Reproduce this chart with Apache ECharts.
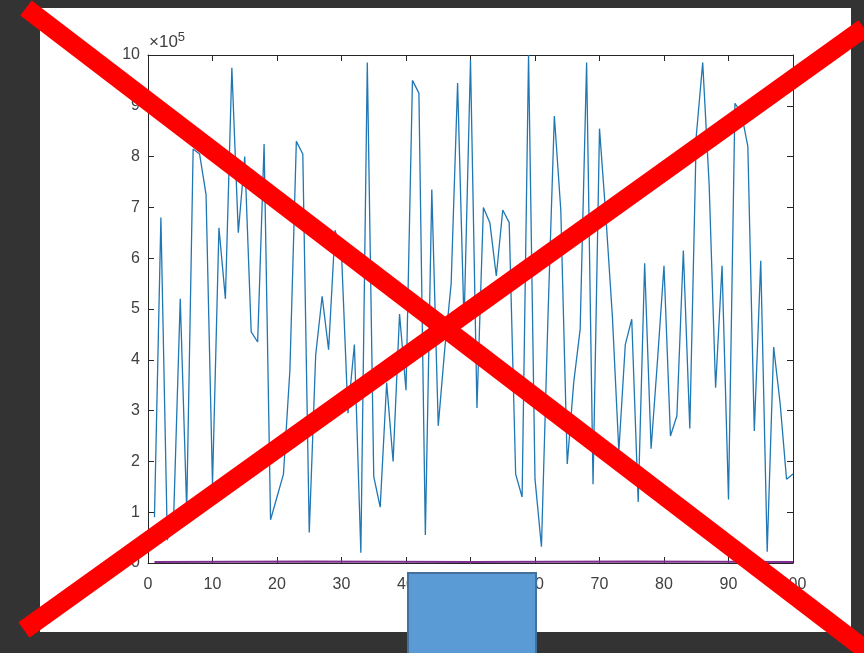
<!DOCTYPE html>
<html>
<head>
<meta charset="UTF-8">
<title>plot</title>
<script src="https://cdn.jsdelivr.net/npm/echarts/dist/echarts.min.js"></script>
<style>
  *{margin:0;padding:0;}
  body{background:#333333;}
  #main{width:864px;height:653px;}
</style>
</head>
<body>
<div id="main"></div>
<script>
// values, in units of 10^5
var blueY = [0.9, 6.8, 0.45, 1.0, 5.2, 1.05, 8.15, 8.05, 7.25, 1.55,
             6.6, 5.2, 9.75, 6.5, 8.0, 4.55, 4.35, 8.25, 0.85, 1.3,
             1.75, 3.8, 8.3, 8.05, 0.6, 4.1, 5.25, 4.2, 6.55, 6.1,
             2.95, 4.3, 0.2, 9.85, 1.7, 1.1, 3.55, 2.0, 4.9, 3.4,
             9.5, 9.25, 0.55, 7.35, 2.7, 4.2, 5.5, 9.45, 4.7, 9.9,
             3.05, 7.0, 6.7, 5.65, 6.95, 6.7, 1.75, 1.3, 10.0, 1.65,
             0.32, 4.8, 8.8, 6.95, 1.95, 3.55, 4.6, 9.85, 1.55, 8.55,
             6.8, 4.85, 2.2, 4.3, 4.8, 1.2, 5.9, 2.25, 4.0, 5.85,
             2.5, 2.9, 6.15, 2.65, 8.4, 9.85, 7.45, 3.45, 5.85, 1.25,
             9.05, 8.85, 8.2, 2.6, 5.95, 0.22, 4.25, 3.15, 1.65, 1.75];
var purpleX = [1, 25, 50, 75, 100];
var purpleY = [0.02, 0.03, 0.02, 0.03, 0.02];
var xTicks = [0, 10, 20, 30, 40, 50, 60, 70, 80, 90, 100];
var yTicks = [0, 1, 2, 3, 4, 5, 6, 7, 8, 9, 10];

var blueData = blueY.map(function (v, i) { return [i + 1, v]; });
var purpleData = purpleX.map(function (x, i) { return [x, purpleY[i]]; });

var axisColor = '#262626';
var labelColor = '#404040';
var font = 'Liberation Sans, Arial, sans-serif';

// one axis of the box; only the bottom and left ones carry labels
function boxAxis(pos, ticks, labelled) {
  return {
    type: 'value', min: ticks[0], max: ticks[ticks.length - 1],
    interval: ticks[1] - ticks[0],
    position: pos,
    axisLine: { show: true, onZero: false, lineStyle: { color: axisColor, width: 1 } },
    axisTick: { show: true, inside: true, length: 6, lineStyle: { color: axisColor } },
    axisLabel: { show: labelled, color: labelColor, fontSize: 16, fontFamily: font,
                 margin: pos === 'bottom' ? 14 : 8 },
    splitLine: { show: false }
  };
}

var myChart = echarts.init(document.getElementById('main'));

var option = {
  backgroundColor: '#333333',
  animation: false,
  grid: { left: 148, top: 55, right: 71, bottom: 90, containLabel: false },
  xAxis: [boxAxis('bottom', xTicks, true), boxAxis('top', xTicks, false)],
  yAxis: [boxAxis('left', yTicks, true), boxAxis('right', yTicks, false)],
  series: [{
    name: 'blue', type: 'line', data: blueData,
    symbol: 'none', lineStyle: { color: '#1f77b4', width: 1.3 }, z: 3
  }, {
    name: 'purple', type: 'line', data: purpleData,
    symbol: 'none', lineStyle: { color: '#7E2F8E', width: 2 }, z: 4
  }],
  graphic: [
    // white figure area
    { type: 'rect', z: -10, shape: { x: 40, y: 8, width: 811, height: 624 },
      style: { fill: '#ffffff' } },
    // exponent label
    { type: 'text', z: 5, left: 149, top: 31,
      style: { text: '{a|×10}{b|5}', rich: {
        a: { fontSize: 17, fill: labelColor, fontFamily: font },
        b: { fontSize: 13, fill: labelColor, fontFamily: font, verticalAlign: 'top', padding: [0, 0, 9, 0] } } } },
    // red X
    { type: 'line', z: 100, shape: { x1: 26, y1: 8, x2: 880, y2: 661 },
      style: { stroke: '#ff0000', lineWidth: 19, lineCap: 'butt' } },
    { type: 'line', z: 100, shape: { x1: 24, y1: 630, x2: 864, y2: 28 },
      style: { stroke: '#ff0000', lineWidth: 19, lineCap: 'butt' } },
    // blue box at bottom
    { type: 'rect', z: 110, shape: { x: 408, y: 573, width: 128, height: 85 },
      style: { fill: '#5b9bd5', stroke: '#41719c', lineWidth: 2 } }
  ]
};

myChart.setOption(option);
</script>
</body>
</html>
